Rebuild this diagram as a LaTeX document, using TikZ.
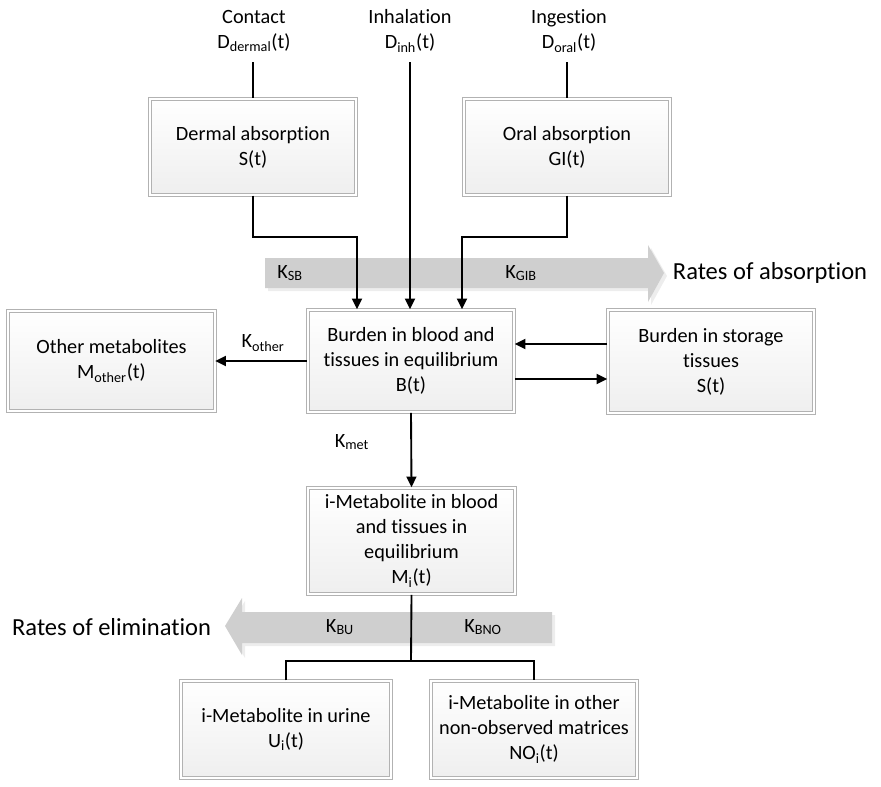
\documentclass[tikz,border=0pt]{standalone}
\usepackage{fontspec}
\setmainfont[Ligatures={NoCommon}]{Carlito}
\usetikzlibrary{arrows.meta,calc}
\begin{document}
\begin{tikzpicture}[x=0.75pt,y=-0.75pt,
  every node/.style={font=\fontsize{15.2}{18.75}\selectfont},
  box/.style={rectangle, align=center, inner sep=2pt,
    draw=gray!60, double=white, line width=0.7pt, double distance=1.5pt,
    top color=white, bottom color=gray!13, minimum width=155pt},
  lbl/.style={align=center, inner sep=2pt},
  conn/.style={line width=1.4pt},
  arr/.style={conn, -{Triangle[length=8pt,width=7.5pt]}},
  band/.style={fill=gray!38, draw=none},
  bandshadow/.style={fill=gray!14, draw=none}
]
\useasboundingbox (0,0) rectangle (881,786);

% rate bands
\fill[bandshadow] (268,261) -- (651,261) -- (651,248) -- (667,276) -- (651,305) -- (651,291) -- (268,291) -- cycle;
\fill[band] (265,258) -- (648,258) -- (648,245) -- (664,273) -- (648,302) -- (648,288) -- (265,288) -- cycle;
\fill[bandshadow] (555,615) -- (245,615) -- (245,601) -- (228,629) -- (245,658) -- (245,646) -- (555,646) -- cycle;
\fill[band] (552,612) -- (242,612) -- (242,598) -- (225,626) -- (242,655) -- (242,643) -- (552,643) -- cycle;

% exposure routes
\node[lbl] (contact) at (254,31) {Contact\\D\textsubscript{dermal}(t)};
\node[lbl] (inh) at (410,31) {Inhalation\\D\textsubscript{inh}(t)};
\node[lbl] (ing) at (569,31) {Ingestion\\D\textsubscript{oral}(t)};

% compartments
\node[box, minimum height=72.4pt] (derm) at (253,147) {Dermal absorption\\S(t)};
\node[box, minimum height=72.4pt] (oral) at (567,147) {Oral absorption\\GI(t)};
\node[box, minimum height=77pt] (B) at (411,361) {Burden in blood and\\tissues in equilibrium\\B(t)};
\node[box, minimum height=77pt] (stor) at (711,361.5) {Burden in storage\\tissues\\S(t)};
\node[box, minimum height=75.5pt] (other) at (111.5,361) {Other metabolites\\M\textsubscript{other}(t)};
\node[box, minimum height=80pt] (met) at (411.5,541) {i-Metabolite in blood\\and tissues in\\equilibrium\\M\textsubscript{i}(t)};
\node[box, minimum height=73pt, minimum width=158pt] (urine) at (286,729.5) {i-Metabolite in urine\\U\textsubscript{i}(t)};
\node[box, minimum height=73pt] (nobs) at (534,729.5) {i-Metabolite in other\\non-observed matrices\\NO\textsubscript{i}(t)};

% rate labels
\node[lbl] (ksb) at (290,273) {K\textsubscript{SB}};
\node[lbl] (kgib) at (521,273) {K\textsubscript{GIB}};
\node[lbl, anchor=west, font=\fontsize{18.4}{22}\selectfont] (rabs) at (670,273) {Rates of absorption};
\node[lbl] (kother) at (263,343) {K\textsubscript{other}};
\node[lbl] (kmet) at (352,442) {K\textsubscript{met}};
\node[lbl] (kbu) at (340,627) {K\textsubscript{BU}};
\node[lbl] (kbno) at (483,627) {K\textsubscript{BNO}};
\node[lbl, anchor=east, font=\fontsize{18.4}{22}\selectfont] (relim) at (214,627) {Rates of elimination};

% connectors
\coordinate (jd) at (357,237);
\coordinate (jo) at (462,237);
\coordinate (jb) at (411,661);
\coordinate (top) at (0,62);

\draw[conn] (derm.north |- top) -- (derm.north);
\draw[conn] (oral.north |- top) -- (oral.north);
\draw[arr] (inh.south |- top) -- (inh.south |- B.north);
\draw[arr] (derm.south) |- (jd) -- (jd |- B.north);
\draw[arr] (oral.south) |- (jo) -- (jo |- B.north);

\draw[arr] (stor.west |- 0,344) -- (B.east |- 0,344);
\draw[arr] (B.east |- 0,379) -- (stor.west |- 0,379);
\draw[arr] (B.west |- 0,361) -- (other.east |- 0,361);
\draw[arr] (B.south) -- (met.north);

\draw[conn] (met.south) -- (jb);
\draw[conn] (urine.north) |- (jb) -| (nobs.north);
\end{tikzpicture}
\end{document}
